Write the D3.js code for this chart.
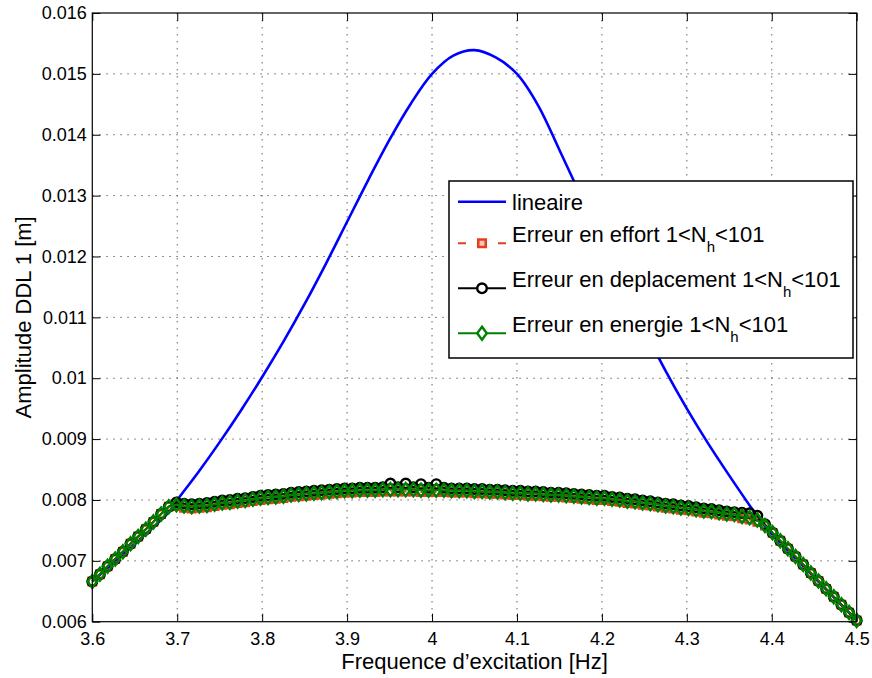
<!DOCTYPE html>
<html>
<head>
<meta charset="utf-8">
<script src="https://cdn.jsdelivr.net/npm/d3@7"></script>
<style>
  html, body { margin: 0; padding: 0; background: #fff; }
  svg { display: block; font-family: "Liberation Sans", Arial, Helvetica, sans-serif; }
</style>
</head>
<body>
<svg id="chart" width="872" height="678"></svg>
<script>
// ---------------- data ----------------
const xTicks = [3.6, 3.7, 3.8, 3.9, 4.0, 4.1, 4.2, 4.3, 4.4, 4.5];
const xTickLabels = ["3.6", "3.7", "3.8", "3.9", "4", "4.1", "4.2", "4.3", "4.4", "4.5"];
const yTicks = [0.006, 0.007, 0.008, 0.009, 0.010, 0.011, 0.012, 0.013, 0.014, 0.015, 0.016];
const yTickLabels = ["0.006", "0.007", "0.008", "0.009", "0.01", "0.011", "0.012", "0.013", "0.014", "0.015", "0.016"];

// linear response (blue)
const linFreq = [3.600, 3.650, 3.690, 3.700, 3.725, 3.750, 3.775, 3.800, 3.825, 3.850, 3.875, 3.900,
  3.925, 3.950, 3.975, 4.000, 4.025, 4.050, 4.075, 4.100, 4.125, 4.150, 4.175, 4.200,
  4.225, 4.250, 4.275, 4.300, 4.325, 4.350, 4.375, 4.390, 4.450, 4.500];
const linAmp = [0.00666, 0.00728, 0.00780, 0.00800, 0.00846, 0.00895, 0.00947, 0.01002, 0.01060, 0.01122, 0.01188, 0.01257,
  0.01326, 0.01392, 0.01451, 0.01500, 0.01530, 0.01539, 0.01527, 0.01500, 0.01448, 0.01375, 0.01300, 0.01225,
  0.01151, 0.01080, 0.01012, 0.00950, 0.00893, 0.00840, 0.00789, 0.00760, 0.00673, 0.00602];

// harmonic balance frequencies (shared by the three error criteria)
const hbFreq = [3.600, 3.609, 3.618, 3.627, 3.636, 3.645, 3.654, 3.663, 3.672, 3.681,
  3.690, 3.699, 3.708, 3.717, 3.726, 3.735, 3.744, 3.753, 3.762, 3.771,
  3.780, 3.789, 3.798, 3.807, 3.816, 3.825, 3.834, 3.843, 3.852, 3.861,
  3.870, 3.879, 3.888, 3.897, 3.906, 3.915, 3.924, 3.933, 3.942, 3.951,
  3.960, 3.969, 3.978, 3.987, 3.996, 4.005, 4.014, 4.023, 4.032, 4.041,
  4.050, 4.059, 4.068, 4.077, 4.086, 4.095, 4.104, 4.113, 4.122, 4.131,
  4.140, 4.149, 4.158, 4.167, 4.176, 4.185, 4.194, 4.203, 4.212, 4.221,
  4.230, 4.239, 4.248, 4.257, 4.266, 4.275, 4.284, 4.293, 4.302, 4.311,
  4.320, 4.329, 4.338, 4.347, 4.356, 4.365, 4.374, 4.383, 4.392, 4.401,
  4.410, 4.419, 4.428, 4.437, 4.446, 4.455, 4.464, 4.473, 4.482, 4.491,
  4.500];

// Erreur en effort (red, squares, dashed)
const effortAmp = [0.00666, 0.00678, 0.00691, 0.00703, 0.00715, 0.00728, 0.00740, 0.00752, 0.00764, 0.00777,
  0.00789, 0.00790, 0.00787, 0.00786, 0.00787, 0.00788, 0.00790, 0.00792, 0.00793, 0.00795,
  0.00796, 0.00798, 0.00800, 0.00801, 0.00802, 0.00803, 0.00805, 0.00806, 0.00807, 0.00808,
  0.00809, 0.00810, 0.00811, 0.00812, 0.00812, 0.00813, 0.00813, 0.00813, 0.00814, 0.00814,
  0.00814, 0.00814, 0.00814, 0.00813, 0.00813, 0.00813, 0.00813, 0.00812, 0.00812, 0.00812,
  0.00811, 0.00811, 0.00810, 0.00810, 0.00809, 0.00808, 0.00808, 0.00807, 0.00807, 0.00806,
  0.00805, 0.00805, 0.00804, 0.00803, 0.00802, 0.00801, 0.00800, 0.00800, 0.00798, 0.00797,
  0.00795, 0.00794, 0.00792, 0.00791, 0.00789, 0.00787, 0.00786, 0.00784, 0.00783, 0.00781,
  0.00779, 0.00778, 0.00776, 0.00774, 0.00773, 0.00770, 0.00768, 0.00764, 0.00758, 0.00746,
  0.00733, 0.00720, 0.00707, 0.00694, 0.00680, 0.00667, 0.00654, 0.00641, 0.00628, 0.00615,
  0.00602];

// Erreur en deplacement (black, circles)
const deplAmp = [0.00666, 0.00678, 0.00691, 0.00703, 0.00715, 0.00728, 0.00740, 0.00752, 0.00764, 0.00777,
  0.00789, 0.00796, 0.00794, 0.00793, 0.00794, 0.00795, 0.00797, 0.00799, 0.00800, 0.00802,
  0.00803, 0.00805, 0.00807, 0.00808, 0.00809, 0.00810, 0.00812, 0.00813, 0.00814, 0.00815,
  0.00816, 0.00817, 0.00818, 0.00819, 0.00819, 0.00820, 0.00820, 0.00820, 0.00821, 0.00827,
  0.00821, 0.00827, 0.00821, 0.00826, 0.00820, 0.00826, 0.00820, 0.00819, 0.00819, 0.00819,
  0.00818, 0.00818, 0.00817, 0.00817, 0.00816, 0.00815, 0.00815, 0.00814, 0.00814, 0.00813,
  0.00812, 0.00812, 0.00811, 0.00810, 0.00809, 0.00808, 0.00807, 0.00807, 0.00805, 0.00804,
  0.00802, 0.00801, 0.00799, 0.00798, 0.00796, 0.00794, 0.00793, 0.00791, 0.00790, 0.00788,
  0.00786, 0.00785, 0.00783, 0.00781, 0.00780, 0.00779, 0.00778, 0.00774, 0.00760, 0.00746,
  0.00733, 0.00720, 0.00707, 0.00694, 0.00680, 0.00667, 0.00654, 0.00641, 0.00628, 0.00615,
  0.00602];

// Erreur en energie (green, diamonds)
const energieAmp = [0.00666, 0.00678, 0.00691, 0.00703, 0.00715, 0.00728, 0.00740, 0.00752, 0.00764, 0.00777,
  0.00789, 0.00792, 0.00790, 0.00789, 0.00790, 0.00791, 0.00793, 0.00795, 0.00796, 0.00798,
  0.00799, 0.00801, 0.00803, 0.00804, 0.00805, 0.00806, 0.00808, 0.00809, 0.00810, 0.00811,
  0.00812, 0.00813, 0.00814, 0.00815, 0.00815, 0.00816, 0.00816, 0.00816, 0.00817, 0.00817,
  0.00817, 0.00817, 0.00817, 0.00816, 0.00816, 0.00816, 0.00816, 0.00815, 0.00815, 0.00815,
  0.00814, 0.00814, 0.00813, 0.00813, 0.00812, 0.00811, 0.00811, 0.00810, 0.00810, 0.00809,
  0.00808, 0.00808, 0.00807, 0.00806, 0.00805, 0.00804, 0.00803, 0.00803, 0.00801, 0.00800,
  0.00798, 0.00797, 0.00795, 0.00794, 0.00792, 0.00790, 0.00789, 0.00787, 0.00786, 0.00784,
  0.00782, 0.00781, 0.00779, 0.00777, 0.00776, 0.00773, 0.00771, 0.00767, 0.00758, 0.00746,
  0.00733, 0.00720, 0.00707, 0.00694, 0.00680, 0.00667, 0.00654, 0.00641, 0.00628, 0.00615,
  0.00602];

const legendLabels = ["lineaire", "Erreur en effort 1<N", "Erreur en deplacement 1<N", "Erreur en energie 1<N"];

// ---------------- layout ----------------
const svg = d3.select("#chart");
const L = 92.3, R = 856.7, T = 13, B = 621.7;
const x = d3.scaleLinear().domain([3.6, 4.5]).range([L, R]);
const y = d3.scaleLinear().domain([0.006, 0.016]).range([B, T]);

const BLUE = "#0000ff", RED = "#e2401c", BLACK = "#000000", GREEN = "#008000";

// grid
const grid = svg.append("g");
grid.selectAll("line.gx").data(xTicks.slice(1, -1)).join("line")
  .attr("x1", d => x(d)).attr("x2", d => x(d)).attr("y1", T).attr("y2", B)
  .attr("stroke", "#666").attr("stroke-width", 1).attr("stroke-dasharray", "1.5,5.5");
grid.selectAll("line.gy").data(yTicks.slice(1, -1)).join("line")
  .attr("x1", L).attr("x2", R).attr("y1", d => y(d)).attr("y2", d => y(d))
  .attr("stroke", "#666").attr("stroke-width", 1).attr("stroke-dasharray", "1.5,5.5");

// axes
const fmtX = (d, i) => xTickLabels[i];
const fmtY = (d, i) => yTickLabels[i];
const gB = svg.append("g").attr("transform", `translate(0,${B})`)
  .call(d3.axisBottom(x).tickValues(xTicks).tickFormat(fmtX).tickSizeInner(-8).tickSizeOuter(0).tickPadding(11));
const gT = svg.append("g").attr("transform", `translate(0,${T})`)
  .call(d3.axisTop(x).tickValues(xTicks).tickFormat("").tickSizeInner(-8).tickSizeOuter(0));
const gL = svg.append("g").attr("transform", `translate(${L},0)`)
  .call(d3.axisLeft(y).tickValues(yTicks).tickFormat(fmtY).tickSizeInner(-8).tickSizeOuter(0).tickPadding(5.6));
const gR = svg.append("g").attr("transform", `translate(${R},0)`)
  .call(d3.axisRight(y).tickValues(yTicks).tickFormat("").tickSizeInner(-8).tickSizeOuter(0));
[gB, gT, gL, gR].forEach(g => {
  g.select(".domain").remove();
  g.selectAll(".tick line").attr("stroke", "#000").attr("stroke-width", 1);
  g.selectAll(".tick text").attr("fill", "#000").style("font-size", "18px")
    .style("font-family", '"Liberation Sans", Arial, sans-serif');
});

// clip for data
svg.append("defs").append("clipPath").attr("id", "clip")
  .append("rect").attr("x", L - 10).attr("y", T).attr("width", R - L + 20).attr("height", B - T + 10);
const plot = svg.append("g").attr("clip-path", "url(#clip)");

// linear curve
const smooth = d3.line().x(d => x(d[0])).y(d => y(d[1])).curve(d3.curveCatmullRom.alpha(0.5));
plot.append("path").datum(linFreq.map((f, i) => [f, linAmp[i]]))
  .attr("d", smooth).attr("fill", "none")
  .attr("stroke", BLUE).attr("stroke-width", 2.6);

const lin = d3.line().x(d => x(d[0])).y(d => y(d[1]));
const sqSym = d3.symbol().type(d3.symbolSquare).size(56);
const circSym = d3.symbol().type(d3.symbolCircle).size(72);
function diamondPath(hw, hh) { return `M0,${-hh}L${hw},0L0,${hh}L${-hw},0Z`; }
const DIA = diamondPath(4.8, 6.5);

// effort (red dashed, squares)
const effData = hbFreq.map((f, i) => [f, effortAmp[i]]);
plot.append("path").datum(effData).attr("d", lin).attr("fill", "none")
  .attr("stroke", RED).attr("stroke-width", 2).attr("stroke-dasharray", "6,4");
plot.selectAll("path.sq").data(effData).join("path").attr("class", "sq")
  .attr("transform", d => `translate(${x(d[0])},${y(d[1])})`)
  .attr("d", sqSym).attr("fill", "none").attr("stroke", RED).attr("stroke-width", 2.4);

// deplacement (black, circles)
const depData = hbFreq.map((f, i) => [f, deplAmp[i]]);
plot.append("path").datum(depData).attr("d", lin).attr("fill", "none")
  .attr("stroke", BLACK).attr("stroke-width", 2);
plot.selectAll("path.ci").data(depData).join("path").attr("class", "ci")
  .attr("transform", d => `translate(${x(d[0])},${y(d[1])})`)
  .attr("d", circSym).attr("fill", "none").attr("stroke", BLACK).attr("stroke-width", 2.4);

// energie (green, diamonds)
const enData = hbFreq.map((f, i) => [f, energieAmp[i]]);
plot.append("path").datum(enData).attr("d", lin).attr("fill", "none")
  .attr("stroke", GREEN).attr("stroke-width", 2);
plot.selectAll("path.di").data(enData).join("path").attr("class", "di")
  .attr("transform", d => `translate(${x(d[0])},${y(d[1])})`)
  .attr("d", DIA).attr("fill", "none").attr("stroke", GREEN).attr("stroke-width", 2.4);

// frame
svg.append("rect").attr("x", L).attr("y", T).attr("width", R - L).attr("height", B - T)
  .attr("fill", "none").attr("stroke", "#000").attr("stroke-width", 1.2);

// axis labels
svg.append("text").attr("x", (L + R) / 2).attr("y", 669).attr("text-anchor", "middle")
  .style("font-size", "22px").attr("fill", "#000").text("Frequence d\u2019excitation [Hz]");
svg.append("text").attr("transform", `translate(31,${(T + B) / 2}) rotate(-90)`).attr("text-anchor", "middle")
  .style("font-size", "22px").attr("fill", "#000").text("Amplitude DDL 1 [m]");

// legend
const lg = svg.append("g");
lg.append("rect").attr("x", 449).attr("y", 181).attr("width", 404).attr("height", 177)
  .attr("fill", "#fff").attr("stroke", "#000").attr("stroke-width", 1.5);
const rowLineY = [201.7, 243.3, 288.3, 333.3];
const rowTextY = [210, 241.7, 286.7, 331.7];
const lx1 = 458, lx2 = 506, lxm = 482;
// lineaire
lg.append("line").attr("x1", lx1).attr("x2", lx2).attr("y1", rowLineY[0]).attr("y2", rowLineY[0])
  .attr("stroke", BLUE).attr("stroke-width", 2.6);
// effort
lg.append("line").attr("x1", lx1).attr("x2", lx2).attr("y1", rowLineY[1]).attr("y2", rowLineY[1])
  .attr("stroke", RED).attr("stroke-width", 2).attr("stroke-dasharray", "8,32");
lg.append("path").attr("transform", `translate(${lxm},${rowLineY[1]})`).attr("d", sqSym)
  .attr("fill", "#f6c8bc").attr("stroke", RED).attr("stroke-width", 2.6);
// deplacement
lg.append("line").attr("x1", lx1).attr("x2", lx2).attr("y1", rowLineY[2]).attr("y2", rowLineY[2])
  .attr("stroke", BLACK).attr("stroke-width", 2);
lg.append("path").attr("transform", `translate(${lxm},${rowLineY[2]})`).attr("d", circSym)
  .attr("fill", "#fff").attr("stroke", BLACK).attr("stroke-width", 2.4);
// energie
lg.append("line").attr("x1", lx1).attr("x2", lx2).attr("y1", rowLineY[3]).attr("y2", rowLineY[3])
  .attr("stroke", GREEN).attr("stroke-width", 2);
lg.append("path").attr("transform", `translate(${lxm},${rowLineY[3]})`).attr("d", DIA)
  .attr("fill", "#fff").attr("stroke", GREEN).attr("stroke-width", 2.4);

legendLabels.forEach((t, i) => {
  const tx = lg.append("text").attr("x", 512).attr("y", rowTextY[i])
    .style("font-size", "22px").attr("fill", "#000");
  tx.append("tspan").text(t);
  if (i > 0) {
    tx.append("tspan").attr("dy", 10).style("font-size", "15px").text("h");
    tx.append("tspan").attr("dy", -10).text("<101");
  }
});
</script>
</body>
</html>
